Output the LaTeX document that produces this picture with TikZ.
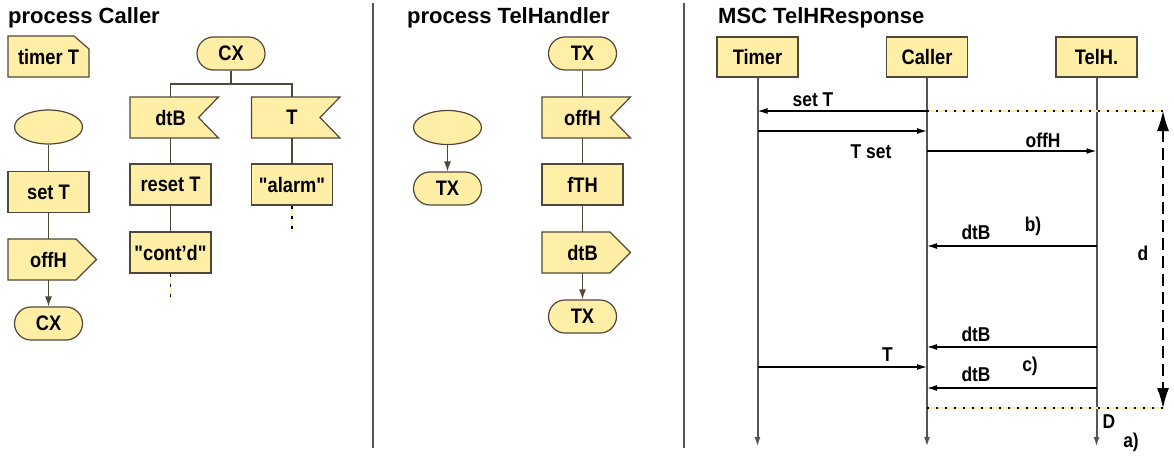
\documentclass[tikz,border=0pt]{standalone}
\usepackage{fontspec}
\setmainfont{Liberation Sans}[FakeStretch=0.87, Ligatures=TeXOff]
\newfontfamily\ttlfont{Liberation Sans}
\usetikzlibrary{arrows.meta,shapes.geometric,calc}
\definecolor{symfill}{RGB}{255,239,166}
\definecolor{symline}{RGB}{80,72,56}
\definecolor{lifeg}{RGB}{85,85,85}
\definecolor{dotyel}{RGB}{255,236,170}

\tikzset{
  every node/.style={font=\bfseries\fontsize{21}{21}\selectfont, inner sep=0pt},
  ttl/.style={font=\ttlfont\bfseries\fontsize{22}{22}\selectfont, anchor=base west},
  lbl/.style={font=\bfseries\fontsize{20}{20}\selectfont, anchor=base},
  sym/.style={fill=symfill, draw=symline, line width=1.2pt},
  boxsym/.style={sym, rectangle, minimum width=81pt, minimum height=41pt},
  headsym/.style={sym, rectangle, minimum width=81pt, minimum height=40pt},
  statesym/.style={sym, rectangle, rounded corners=16.5pt, minimum width=68pt, minimum height=33pt},
  startsym/.style={sym, ellipse, minimum width=68pt, minimum height=34pt},
  hold/.style={rectangle, minimum width=81pt, minimum height=41pt},
  conn/.style={draw=symline, line width=1.2pt},
  flowarr/.style={conn, -{Latex[length=10pt,width=7pt]}},
  contline/.style={draw=dotyel, line width=1.5pt, postaction={draw=black, line width=1.5pt, dash pattern=on 3pt off 7pt}},
  sepline/.style={draw=lifeg, line width=2pt},
  life/.style={draw=lifeg, line width=2pt, -{Latex[length=10pt,width=6pt]}},
  msg/.style={draw=black, line width=1.3pt, -{Latex[length=10pt,width=6pt]}},
  dotline/.style={draw=dotyel, line width=1.5pt, postaction={draw=black, line width=1.5pt, dash pattern=on 2pt off 7pt}},
  durarr/.style={draw=black, line width=1.3pt, dash pattern=on 12pt off 6pt, {Latex[length=20pt,width=12pt]}-{Latex[length=20pt,width=12pt]}},
}

\newcommand\InSym[4]{%
  \path[sym] (#2-40.5,#3-20.5) -- (#2+48,#3-20.5) -- (#2+28,#3) -- (#2+48,#3+20.5) -- (#2-40.5,#3+20.5) -- cycle;
  \node[hold] (#1) at (#2,#3) {#4};}
\newcommand\OutSym[4]{%
  \path[sym] (#2-40.5,#3-20.5) -- (#2+27.5,#3-20.5) -- (#2+48,#3) -- (#2+27.5,#3+20.5) -- (#2-40.5,#3+20.5) -- cycle;
  \node[hold] (#1) at (#2,#3) {#4};}
\newcommand\TxtSym[4]{%
  \path[sym] (#2-40.5,#3-20.5) -- (#2+25.5,#3-20.5) -- (#2+40.5,#3-7.5) -- (#2+40.5,#3+20.5) -- (#2-40.5,#3+20.5) -- cycle;
  \node[hold] (#1) at (#2,#3) {#4};}

\begin{document}
\begin{tikzpicture}[x=1pt,y=-1pt]
\useasboundingbox (0,0) rectangle (1174,455);

% separators
\draw[sepline] (373,3) -- (373,448);
\draw[sepline] (684,3) -- (684,448);

% ---------- process Caller ----------
\node[ttl] (t1) at (8,23) {process Caller};
\TxtSym{timerT}{48.5}{56.5}{timer T}
\node[startsym] (st1) at (48.5,127) {};
\node[boxsym] (setT) at (48.5,192) {set T};
\OutSym{offHo}{48.5}{259.5}{offH}
\node[statesym] (cx2) at (48.5,323.5) {CX};
\draw[conn] (st1.south) -- (setT.north);
\draw[conn] (setT.south) -- (offHo.north);
\draw[flowarr] (offHo.south) -- (cx2.north);

\node[statesym] (cx1) at (231,53.5) {CX};
\InSym{dtBi}{170.5}{117.5}{dtB}
\InSym{Ti}{292}{117.5}{T}
\node[boxsym] (resetT) at (170.5,184.5) {reset T};
\node[boxsym] (alarm) at (292,184.5) {"alarm"};
\node[boxsym] (contd) at (170.5,252.5) {"cont’d"};
\coordinate (fork) at (231,84);
\draw[conn] (cx1.south) -- (fork) -| (dtBi.north);
\draw[conn] (fork) -| (Ti.north);
\draw[conn] (dtBi.south) -- (resetT.north);
\draw[conn] (resetT.south) -- (contd.north);
\draw[conn] (Ti.south) -- (alarm.north);
\coordinate (contdE) at (170.5,299);
\coordinate (alarmE) at (292,232);
\draw[contline] (contd.south) -- (contdE);
\draw[contline] (alarm.south) -- (alarmE);

% ---------- process TelHandler ----------
\node[ttl] (t2) at (407,23) {process TelHandler};
\node[startsym] (st2) at (447.5,127.5) {};
\node[statesym] (tx1) at (447.5,188.5) {TX};
\draw[flowarr] (st2.south) -- (tx1.north);

\node[statesym] (tx2) at (582.5,53.5) {TX};
\InSym{offHi}{582.5}{117.5}{offH}
\node[boxsym] (fTH) at (582.5,184.5) {fTH};
\OutSym{dtBo}{582.5}{252.5}{dtB}
\node[statesym] (tx3) at (582.5,316.5) {TX};
\draw[conn] (tx2.south) -- (offHi.north);
\draw[conn] (offHi.south) -- (fTH.north);
\draw[conn] (fTH.south) -- (dtBo.north);
\draw[flowarr] (dtBo.south) -- (tx3.north);

% ---------- MSC TelHResponse ----------
\node[ttl] (t3) at (718,23) {MSC TelHResponse};
\node[headsym] (tim) at (757.5,57) {Timer};
\node[headsym] (cal) at (927,57) {Caller};
\node[headsym] (tel) at (1096.5,57) {TelH.};
\coordinate (timE) at (757.5,447);
\coordinate (calE) at (927,447);
\coordinate (telE) at (1096.5,447);
\draw[life] (tim.south) -- (timE);
\draw[life] (cal.south) -- (calE);
\draw[life] (tel.south) -- (telE);

\draw[msg] (cal.south |- 0,111) -- (tim.south |- 0,111);
\node[lbl] (m1) at (813,106) {set T};
\draw[msg] (tim.south |- 0,131) -- (cal.south |- 0,131);
\node[lbl] (m2) at (871,158) {T set};
\draw[msg] (cal.south |- 0,151) -- (tel.south |- 0,151);
\node[lbl] (m3) at (1043,147) {offH};
\draw[msg] (tel.south |- 0,246) -- (cal.south |- 0,246);
\node[lbl] (m4) at (976,239) {dtB};
\node[lbl] (lb) at (1033,231) {b)};
\draw[msg] (tel.south |- 0,347) -- (cal.south |- 0,347);
\node[lbl] (m5) at (976,341) {dtB};
\draw[msg] (tim.south |- 0,367) -- (cal.south |- 0,367);
\node[lbl] (m6) at (887.5,361) {T};
\draw[msg] (tel.south |- 0,388) -- (cal.south |- 0,388);
\node[lbl] (m7) at (976,381) {dtB};
\node[lbl] (lc) at (1030,371) {c)};

\coordinate (dTop) at (1163,111);
\coordinate (dBot) at (1163,408);
\draw[dotline] (cal.south |- dTop) -- (dTop);
\draw[dotline] (cal.south |- dBot) -- (dBot);
\draw[durarr] (dTop) -- (dBot);
\node[lbl] (ld) at (1143,260) {d};
\node[lbl] (lD) at (1109,428) {D};
\node[lbl] (la) at (1131,447) {a)};
\end{tikzpicture}
\end{document}
